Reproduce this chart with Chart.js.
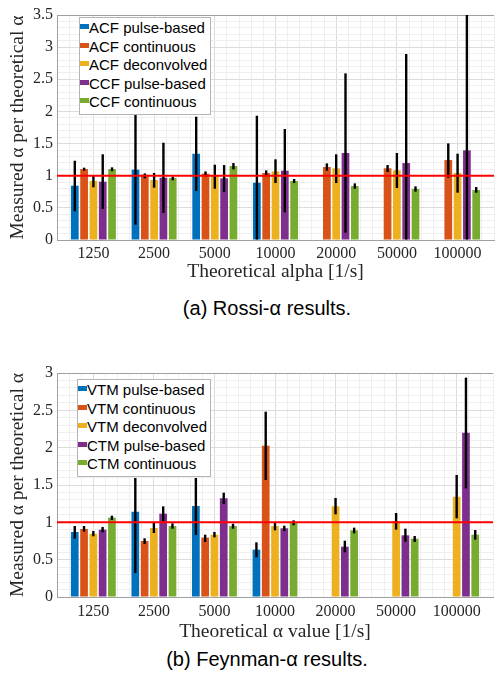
<!DOCTYPE html>
<html>
<head>
<meta charset="utf-8">
<script src="https://cdn.jsdelivr.net/npm/chart.js@4.4.1/dist/chart.umd.min.js"></script>
<style>
  body { margin: 0; background: #fff; width: 498px; height: 678px; position: relative; overflow: hidden; }
  canvas { position: absolute; left: 0; }
  .legend { position: absolute; background: #fff; border: 1px solid #b4b4b4; padding: 1px 3px 2px 0;
            font: 15px "Liberation Sans", Arial, sans-serif; color: #000; line-height: 18.6px; }
  .legend div { white-space: nowrap; }
  .legend span { display: inline-block; width: 9px; height: 5px; vertical-align: 4px; }
  .caption { position: absolute; left: 0; width: 534px; text-align: center; line-height: 24px;
             font: 20px "Liberation Sans", Arial, sans-serif; color: #000; }
</style>
</head>
<body>
<canvas id="rossi" width="498" height="290" style="top:0"></canvas>
<div class="legend" id="rossi-legend" style="left:79px;top:17px"></div>
<div class="caption" style="top:297px">(a) Rossi-α results.</div>

<canvas id="feynman" width="498" height="305" style="top:340px"></canvas>
<div class="legend" id="feynman-legend" style="left:77px;top:379px"></div>
<div class="caption" style="top:648px">(b) Feynman-α results.</div>

<script>
// categorias (alfa teórico)
const xLabels = ["1250", "2500", "5000", "10000", "20000", "50000", "100000"];
const cores = ["#0072BD", "#D95319", "#EDB120", "#7E2F8E", "#77AC30"];

// Rossi-alpha
const rossiNomes = ["ACF pulse-based", "ACF continuous", "ACF deconvolved", "CCF pulse-based", "CCF continuous"];
const acfPulse = [0.845, 1.094, 1.342, 0.891, null, null, null];
const acfPulseLo = [0.446, 0.238, 0.762, 0, null, null, null];
const acfPulseHi = [1.233, 1.944, 1.918, 1.933, null, null, null];
const acfCont = [1.104, 1.016, 1.031, 1.042, 1.135, 1.115, 1.244];
const acfContLo = [1.078, 0.959, 0.99, 0.999, 1.078, 1.057, 0.969];
const acfContHi = [1.125, 1.036, 1.067, 1.083, 1.192, 1.166, 1.503];
const acfDeconv = [0.918, 0.933, 1.0, 1.068, 1.115, 1.084, 1.042];
const acfDeconvLo = [0.82, 0.814, 0.798, 0.886, 0.886, 0.809, 0.736];
const acfDeconvHi = [1.011, 1.042, 1.171, 1.255, 1.333, 1.353, 1.342];
const ccfPulse = [0.907, 0.969, 0.959, 1.078, 1.353, 1.197, 1.395];
const ccfPulseLo = [0.482, 0.42, 0.746, 0.43, 0.114, 0, 0];
const ccfPulseHi = [1.333, 1.513, 1.166, 1.726, 2.592, 2.893, 3.7];
const ccfCont = [1.104, 0.964, 1.151, 0.918, 0.84, 0.793, 0.778];
const ccfContLo = [1.07, 0.928, 1.099, 0.886, 0.798, 0.752, 0.736];
const ccfContHi = [1.13, 0.985, 1.197, 0.949, 0.881, 0.834, 0.824];

// Feynman-alpha
const feynmanNomes = ["VTM pulse-based", "VTM continuous", "VTM deconvolved", "CTM pulse-based", "CTM continuous"];
const vtmPulse = [0.87, 1.143, 1.219, 0.634, null, null, null];
const vtmPulseLo = [0.781, 0.321, 0.83, 0.531, null, null, null];
const vtmPulseHi = [0.951, 1.594, 1.594, 0.732, null, null, null];
const vtmCont = [0.911, 0.75, 0.795, 2.027, null, null, null];
const vtmContLo = [0.875, 0.71, 0.737, 1.567, null, null, null];
const vtmContHi = [0.951, 0.786, 0.835, 2.482, null, null, null];
const vtmDeconv = [0.848, 0.924, 0.835, 0.951, 1.214, 1.018, 1.344];
const vtmDeconvLo = [0.813, 0.857, 0.799, 0.893, 1.107, 0.902, 1.054];
const vtmDeconvHi = [0.884, 0.996, 0.871, 1.0, 1.326, 1.125, 1.634];
const ctmPulse = [0.902, 1.116, 1.321, 0.92, 0.674, 0.826, 2.201];
const ctmPulseLo = [0.866, 1.013, 1.246, 0.884, 0.598, 0.741, 1.455];
const ctmPulseHi = [0.938, 1.214, 1.397, 0.955, 0.754, 0.915, 2.938];
const ctmCont = [1.063, 0.951, 0.951, 0.991, 0.893, 0.781, 0.835];
const ctmContLo = [1.031, 0.915, 0.915, 0.96, 0.853, 0.737, 0.768];
const ctmContHi = [1.089, 0.987, 0.982, 1.027, 0.929, 0.817, 0.897];

const referencia = 1; // linha vermelha

Chart.defaults.font.family = '"Liberation Serif", "Times New Roman", serif';
Chart.defaults.color = "#262626";

const gradeMaior = "#dcdcdc";
const gradeMenor = "#efefef";
const corBorda = "#a0a0a0";

// o Chart.js mede a largura da categoria pelo menor intervalo entre ticks (0.2 aqui),
// então a fração do grupo é dividida por esse passo
const passoMenorX = 0.2;
const fracaoGrupo = 0.767 / passoMenorX;

function pontos(valores) {
  return valores.map((v, i) => ({ x: i + 1, y: v })).filter((p) => p.y !== null);
}
function faixas(lo, hi) {
  return lo.map((v, i) => ({ x: i + 1, y: v === null ? null : [v, hi[i]] })).filter((p) => p.y !== null);
}
function quase(v, passo) {
  return Math.abs(v / passo - Math.round(v / passo)) < 1e-6;
}

function gerarGrafico(id, cfg) {
  const datasets = [];
  cfg.nomes.forEach((nome, s) => {
    datasets.push({
      type: "bar", label: nome, data: pontos(cfg.valores[s]),
      backgroundColor: cores[s], stack: "g" + s, order: 2,
      categoryPercentage: fracaoGrupo, barPercentage: 0.83,
    });
    datasets.push({
      type: "bar", label: nome + " erro", data: faixas(cfg.baixo[s], cfg.alto[s]),
      backgroundColor: "#000", stack: "g" + s, order: 1,
      categoryPercentage: fracaoGrupo, barPercentage: 0.83, maxBarThickness: 2.4,
    });
  });
  datasets.push({
    type: "line", label: "ref", data: [{ x: 0.4, y: referencia }, { x: 7.6, y: referencia }],
    borderColor: "#ff0000", borderWidth: 2, pointRadius: 0, order: 0,
  });

  new Chart(document.getElementById(id), {
    type: "bar",
    data: { datasets },
    options: {
      responsive: false,
      animation: false,
      layout: { padding: { top: cfg.topo, right: 0, bottom: 0, left: 0 } },
      plugins: { legend: { display: false }, tooltip: { enabled: false } },
      scales: {
        x: {
          type: "linear", min: 0.4, max: 7.6, offset: false,
          afterFit: (scale) => { scale.height = cfg.alturaX; },
          grid: {
            offset: false, drawTicks: false,
            color: (ctx) => {
              const v = ctx.tick ? ctx.tick.value : 0;
              return quase(v, 1) ? gradeMaior : gradeMenor;
            },
          },
          border: { color: corBorda },
          ticks: {
            stepSize: passoMenorX, autoSkip: false, maxRotation: 0, padding: cfg.padTicks,
            font: { size: 16 },
            callback: (v) => (quase(v, 1) ? xLabels[Math.round(v) - 1] : ""),
          },
          title: { display: true, text: cfg.tituloX, font: { size: 19.5 }, padding: { top: 0, bottom: cfg.padTitulo } },
        },
        y: {
          min: 0, max: cfg.yMax, stacked: false,
          afterFit: (scale) => { scale.width = 57; },
          grid: {
            drawTicks: false,
            color: (ctx) => {
              const v = ctx.tick ? ctx.tick.value : 0;
              if (Math.abs(v - cfg.yMax) < 1e-6) return corBorda;
              return quase(v, 0.5) ? gradeMaior : gradeMenor;
            },
          },
          border: { color: corBorda },
          ticks: {
            stepSize: 0.1, autoSkip: false, padding: 4, font: { size: 16 },
            callback: (v) => (quase(v, 0.5) ? String(Math.round(v * 10) / 10) : ""),
          },
          title: { display: true, text: "Measured α per theoretical α", font: { size: 19.5 }, padding: { top: 6, bottom: 0 } },
        },
      },
    },
  });

  // legenda
  const leg = document.getElementById(id + "-legend");
  cfg.nomes.forEach((nome, s) => {
    const linha = document.createElement("div");
    linha.innerHTML = '<span style="background:' + cores[s] + '"></span>' + nome;
    leg.appendChild(linha);
  });
}

gerarGrafico("rossi", {
  nomes: rossiNomes,
  valores: [acfPulse, acfCont, acfDeconv, ccfPulse, ccfCont],
  baixo: [acfPulseLo, acfContLo, acfDeconvLo, ccfPulseLo, ccfContLo],
  alto: [acfPulseHi, acfContHi, acfDeconvHi, ccfPulseHi, ccfContHi],
  yMax: 3.5, topo: 15, alturaX: 50, padTicks: 4, padTitulo: 6,
  tituloX: "Theoretical alpha [1/s]",
});

gerarGrafico("feynman", {
  nomes: feynmanNomes,
  valores: [vtmPulse, vtmCont, vtmDeconv, ctmPulse, ctmCont],
  baixo: [vtmPulseLo, vtmContLo, vtmDeconvLo, ctmPulseLo, ctmContLo],
  alto: [vtmPulseHi, vtmContHi, vtmDeconvHi, ctmPulseHi, ctmContHi],
  yMax: 3, topo: 33, alturaX: 48, padTicks: 5, padTitulo: 1,
  tituloX: "Theoretical α value [1/s]",
});
</script>
</body>
</html>
